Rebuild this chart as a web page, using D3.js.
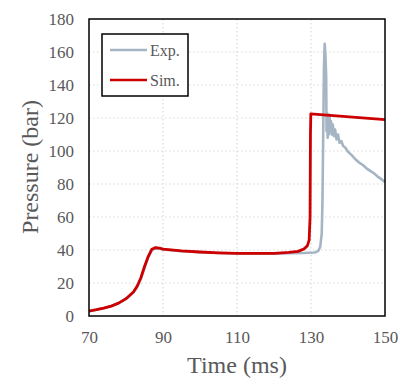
<!DOCTYPE html>
<html>
<head>
<meta charset="utf-8">
<script src="https://cdn.jsdelivr.net/npm/d3@7"></script>
<style>
  body { margin: 0; background: #fff; }
  text { font-family: "Liberation Serif", "DejaVu Serif", serif; fill: #595959; }
</style>
</head>
<body>
<div id="chart"></div>
<script>
// Data
var xTicks = [70, 90, 110, 130, 150]
var yTicks = [0, 20, 40, 60, 80, 100, 120, 140, 160, 180]

var simTime = [70, 72, 74, 76, 78, 80, 82, 83, 84, 85, 86, 87, 88, 89, 90, 95, 100, 105, 110, 115, 120, 124, 126.5, 128, 129, 129.5, 129.75, 129.85, 129.95, 150]
var simPressure = [3, 3.8, 4.8, 6, 7.8, 10.5, 14.5, 18, 23, 30, 36, 40.5, 41.5, 41.2, 40.5, 39.5, 38.8, 38.3, 38, 37.9, 38, 38.5, 39.2, 40.5, 42.5, 46, 60, 110, 122.5, 119]

var expTime = [70, 72, 74, 76, 78, 80, 82, 83, 84, 85, 86, 87, 88, 89, 90, 95, 100, 105, 110, 115, 120, 124, 128, 131, 132, 132.5, 132.9, 133.1, 133.3, 133.5, 133.7, 133.9, 134.1, 134.2, 134.35, 134.5, 134.65, 134.8, 135, 135.2, 135.4, 135.6, 135.9, 136.2, 136.5, 136.9, 137.3, 137.7, 138.2, 138.7, 139.3, 140, 141, 142, 143, 144, 145, 146, 147, 148, 149, 150]
var expPressure = [3, 3.8, 4.8, 6, 7.8, 10.3, 14.2, 17.5, 22.5, 29, 35.5, 40, 41, 40.8, 40.3, 39.3, 38.6, 38.2, 37.9, 37.8, 37.8, 38, 38.2, 38.5, 39.5, 42, 50, 70, 110, 150, 165, 158, 145, 112, 123, 108, 120, 110, 122, 112, 118, 110, 116, 109, 113, 107, 110, 105, 106, 103, 102, 99.5, 97.5, 95, 93, 91.5, 89.5, 88, 86.5, 84.5, 83, 81]

var seriesNames = ['Exp.', 'Sim.']
var seriesColors = ['#a6b5c3', '#cc0000']

var width = 407
var height = 379
var margin = { top: 19, right: 22, bottom: 63, left: 89 }
var chartWidth = width - margin.left - margin.right
var chartHeight = height - margin.top - margin.bottom

var xScale = d3.scaleLinear().domain([70, 150]).range([0, chartWidth])
var yScale = d3.scaleLinear().domain([0, 180]).range([chartHeight, 0])

var svg = d3.select('#chart').append('svg')
  .attr('width', width)
  .attr('height', height)

var g = svg.append('g')
  .attr('transform', 'translate(' + margin.left + ',' + margin.top + ')')

// Grid
g.append('g').selectAll('line.h')
  .data(yTicks.slice(1, -1))
  .enter().append('line')
  .attr('x1', 0).attr('x2', chartWidth)
  .attr('y1', function (d) { return yScale(d) })
  .attr('y2', function (d) { return yScale(d) })
  .attr('stroke', '#d9d9d9')
  .attr('stroke-width', 1.2)
  .attr('stroke-dasharray', '1.5,2.5')

g.append('g').selectAll('line.v')
  .data(xTicks.slice(1, -1))
  .enter().append('line')
  .attr('y1', 0).attr('y2', chartHeight)
  .attr('x1', function (d) { return xScale(d) })
  .attr('x2', function (d) { return xScale(d) })
  .attr('stroke', '#d9d9d9')
  .attr('stroke-width', 1.2)
  .attr('stroke-dasharray', '1.5,2.5')

// Axes (labels only)
var xAxis = g.append('g')
  .attr('transform', 'translate(0,' + chartHeight + ')')
  .call(d3.axisBottom(xScale).tickValues(xTicks).tickSize(0).tickPadding(15))
xAxis.select('.domain').remove()
xAxis.selectAll('text').style('font-size', '17px').attr('fill', '#595959')

var yAxis = g.append('g')
  .call(d3.axisLeft(yScale).tickValues(yTicks).tickSize(0).tickPadding(15))
yAxis.select('.domain').remove()
yAxis.selectAll('text').style('font-size', '17px').attr('fill', '#595959')

// Lines
var line = d3.line()
  .x(function (d) { return xScale(d[0]) })
  .y(function (d) { return yScale(d[1]) })

var expData = d3.zip(expTime, expPressure)
var simData = d3.zip(simTime, simPressure)

var clip = svg.append('defs').append('clipPath').attr('id', 'clip')
clip.append('rect').attr('width', chartWidth).attr('height', chartHeight)

g.append('path')
  .datum(expData)
  .attr('clip-path', 'url(#clip)')
  .attr('d', line)
  .attr('fill', 'none')
  .attr('stroke', seriesColors[0])
  .attr('stroke-width', 2.6)
  .attr('stroke-linejoin', 'round')

g.append('path')
  .datum(simData)
  .attr('clip-path', 'url(#clip)')
  .attr('d', line)
  .attr('fill', 'none')
  .attr('stroke', seriesColors[1])
  .attr('stroke-width', 2.8)
  .attr('stroke-linejoin', 'round')

// Frame
g.append('rect')
  .attr('width', chartWidth)
  .attr('height', chartHeight)
  .attr('fill', 'none')
  .attr('stroke', '#000')
  .attr('stroke-width', 1.5)

// Legend
var legend = svg.append('g').attr('transform', 'translate(102,34)')
legend.append('rect')
  .attr('width', 86).attr('height', 62)
  .attr('fill', '#fff')
  .attr('stroke', '#000')
  .attr('stroke-width', 1.5)

var items = legend.selectAll('.item')
  .data(seriesNames)
  .enter().append('g')
  .attr('transform', function (d, i) { return 'translate(0,' + (16 + i * 30) + ')' })

items.append('line')
  .attr('x1', 8).attr('x2', 45)
  .attr('stroke', function (d, i) { return seriesColors[i] })
  .attr('stroke-width', 2.6)

items.append('text')
  .attr('x', 48).attr('dy', '0.35em')
  .style('font-size', '16px')
  .text(function (d) { return d })

// Axis titles
svg.append('text')
  .attr('x', margin.left + chartWidth / 2)
  .attr('y', 373)
  .attr('text-anchor', 'middle')
  .style('font-size', '24px')
  .text('Time (ms)')

svg.append('text')
  .attr('transform', 'translate(38,167) rotate(-90)')
  .attr('text-anchor', 'middle')
  .style('font-size', '24px')
  .text('Pressure (bar)')
</script>
</body>
</html>
